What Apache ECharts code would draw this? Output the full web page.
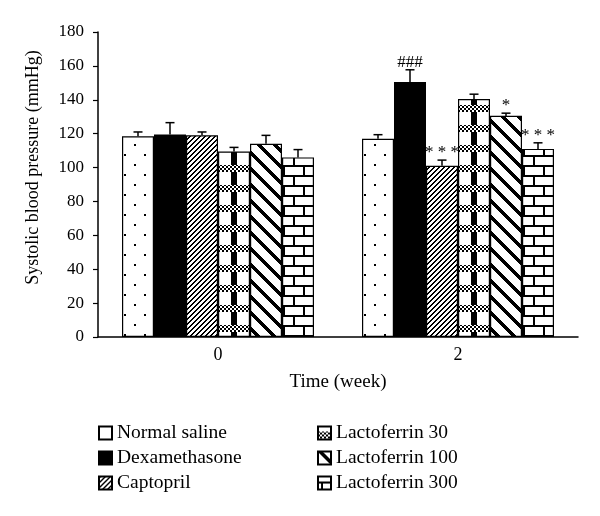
<!DOCTYPE html>
<html><head><meta charset="utf-8">
<script src="https://cdn.jsdelivr.net/npm/echarts@6/dist/echarts.min.js"></script>
<style>html,body{margin:0;padding:0;background:#fff}#c{width:600px;height:516px}</style>
</head><body><div id="c"></div>
<script>
// ---- data ----
const categories = ['0', '2'];
const seriesNames = ['Normal saline', 'Dexamethasone', 'Captopril', 'Lactoferrin 30', 'Lactoferrin 100', 'Lactoferrin 300'];
const normalSaline = [118.5, 117];
const dexamethasone = [119.5, 150.5];
const captopril = [119, 101];
const lactoferrin30 = [109.5, 140.5];
const lactoferrin100 = [114, 130.5];
const lactoferrin300 = [106, 111];
const normalSalineErr = [2.5, 2.4];
const dexamethasoneErr = [7, 7.2];
const captoprilErr = [2, 3.4];
const lactoferrin30Err = [2.4, 2.8];
const lactoferrin100Err = [5, 1.6];
const lactoferrin300Err = [4.6, 3.6];
const sigWeek0 = ['', '', '', '', '', ''];
const sigWeek2 = ['', '###', '* * *', '', '*', '* * *'];
const yMin = 0, yMax = 180, yInterval = 20;

const means = [normalSaline, dexamethasone, captopril, lactoferrin30, lactoferrin100, lactoferrin300];
const errs = [normalSalineErr, dexamethasoneErr, captoprilErr, lactoferrin30Err, lactoferrin100Err, lactoferrin300Err];
const sigs = [sigWeek0, sigWeek2];

// ---- patterns ----
function tile(w, h, fn) {
  const c = document.createElement('canvas');
  c.width = w; c.height = h;
  const ctx = c.getContext('2d');
  const img = ctx.createImageData(w, h);
  for (let y = 0; y < h; y++) for (let x = 0; x < w; x++) {
    const i = (y * w + x) * 4;
    const v = fn(x, y) ? 0 : 255;
    img.data[i] = img.data[i + 1] = img.data[i + 2] = v;
    img.data[i + 3] = 255;
  }
  ctx.putImageData(img, 0, 0);
  return { image: c, repeat: 'repeat' };
}
const patterns = [
  tile(20, 20, (x, y) => (x >= 14 && x < 16 && y >= 4 && y < 6) || (x >= 4 && x < 6 && y >= 14 && y < 16)),
  '#000',
  tile(10, 10, (x, y) => ((x + y) % 5) < 2),
  tile(48, 20, (x, y) => {
    if (y >= 5 && y < 12) return (((x >> 1) + (y >> 1)) & 1) === 0;
    return x >= 39 && x < 45;
  }),
  tile(16, 16, (x, y) => ((((x - y) % 16) + 16) % 16) < 5),
  tile(20, 20, (x, y) => {
    const ym = y % 10;
    if (ym === 5 || ym === 6) return true;
    if (y >= 7 && y < 15) return x === 3 || x === 4;
    return x === 13 || x === 14;
  })
];

const FONT = '"Liberation Serif", "DejaVu Serif", serif';

const barSeries = seriesNames.map((name, i) => ({
  name: name,
  type: 'bar',
  data: means[i],
  barGap: '0%',
  barCategoryGap: '20%',
  itemStyle: { color: patterns[i], borderColor: '#000', borderWidth: 1.2 },
  emphasis: { disabled: true },
  z: 2
}));

const errData = [];
const errLabels = [];
for (let s = 0; s < seriesNames.length; s++) {
  for (let c = 0; c < categories.length; c++) {
    errData.push([c, s, means[s][c], errs[s][c]]);
    errLabels.push(sigs[c][s]);
  }
}

const errSeries = {
  type: 'custom',
  name: 'err',
  data: errData,
  z: 5,
  silent: true,
  encode: { x: 0, y: 2 },
  renderItem: function (params, api) {
    const cat = api.value(0), si = api.value(1), mean = api.value(2), err = api.value(3);
    const band = api.size([1, 0])[0];
    const bw = band * 0.8 / 6;
    const base = api.coord([cat, mean]);
    const top = api.coord([cat, mean + err]);
    const x = base[0] + (si - 2.5) * bw;
    const children = [
      { type: 'line', shape: { x1: x, y1: base[1], x2: x, y2: top[1] }, style: { stroke: '#000', lineWidth: 1.5 } },
      { type: 'line', shape: { x1: x - 4.5, y1: top[1], x2: x + 4.5, y2: top[1] }, style: { stroke: '#000', lineWidth: 1.5 } }
    ];
    const lab = errLabels[params.dataIndex];
    if (lab) {
      children.push({ type: 'text', style: { text: lab, x: x, y: top[1] + 1, align: 'center', verticalAlign: 'bottom', font: '17px ' + FONT, fill: '#000' } });
    }
    return { type: 'group', children: children };
  }
};

const legendCommon = {
  orient: 'vertical',
  top: 418,
  padding: 5,
  itemWidth: 13,
  itemHeight: 13,
  itemGap: 5,
  icon: 'rect',
  selectedMode: false,
  textStyle: { fontFamily: FONT, fontSize: 19.5, color: '#000', lineHeight: 16 }
};

const chart = echarts.init(document.getElementById('c'), null, { renderer: 'canvas' });
chart.setOption({
  animation: false,
  backgroundColor: '#fff',
  grid: { left: 98, right: 22, top: 32, bottom: 179 },
  legend: [
    Object.assign({}, legendCommon, { left: 93, data: seriesNames.slice(0, 3) }),
    Object.assign({}, legendCommon, { left: 312, data: seriesNames.slice(3) })
  ],
  xAxis: {
    type: 'category',
    data: categories,
    axisLine: { lineStyle: { color: '#000', width: 1.5 } },
    axisTick: { show: false },
    axisLabel: { color: '#000', fontFamily: FONT, fontSize: 18, margin: 9 },
    name: 'Time (week)',
    nameLocation: 'middle',
    nameGap: 36,
    nameTextStyle: { color: '#000', fontFamily: FONT, fontSize: 19 }
  },
  yAxis: {
    type: 'value',
    min: yMin, max: yMax, interval: yInterval,
    axisLine: { show: true, lineStyle: { color: '#000', width: 1.5 } },
    axisTick: { show: true, length: 5, lineStyle: { color: '#000', width: 1.2 } },
    splitLine: { show: false },
    axisLabel: { color: '#000', fontFamily: FONT, fontSize: 17, margin: 14 },
    name: 'Systolic blood pressure (mmHg)',
    nameLocation: 'middle',
    nameGap: 56,
    nameTextStyle: { color: '#000', fontFamily: FONT, fontSize: 18, padding: [0, 0, 0, 34] }
  },
  series: barSeries.concat([errSeries])
});
</script>
</body></html>
